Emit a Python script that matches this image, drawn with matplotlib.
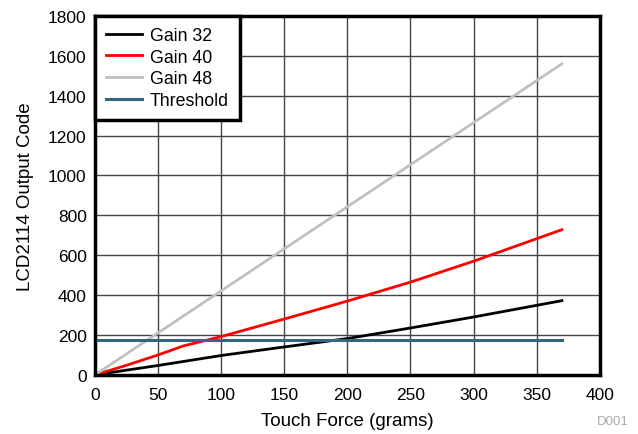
import numpy as np
import matplotlib
matplotlib.use('Agg')
from matplotlib import pyplot as plt

plt.rcParams['font.family'] = ['Liberation Sans', 'DejaVu Sans']

force_32 = [0, 50, 100, 150, 200, 250, 300, 370]
gain_32 = [0, 47, 97, 140, 182, 235, 290, 372]
force_40 = [0, 25, 50, 70, 100, 150, 200, 250, 300, 370]
gain_40 = [0, 48, 100, 145, 192, 280, 370, 465, 570, 728]
force_48 = [0, 370]
gain_48 = [0, 1560]
threshold_x = [0, 370]
threshold_y = [177, 177]

fig = plt.figure(figsize=(6.38, 4.35), dpi=100)
ax = fig.add_axes([0.149, 0.136, 0.791, 0.825])

ax.plot(force_32, gain_32, color='black', lw=2, label='Gain 32')
ax.plot(force_40, gain_40, color='red', lw=2, label='Gain 40')
ax.plot(force_48, gain_48, color='#c0c0c0', lw=2, label='Gain 48')
ax.plot(threshold_x, threshold_y, color='#336680', lw=2.2, label='Threshold')

ax.set_xlim(0, 400)
ax.set_ylim(0, 1800)
ax.set_xticks(np.arange(0, 401, 50))
ax.set_yticks(np.arange(0, 1801, 200))
ax.grid(True, color='#444444', lw=1)
ax.set_axisbelow(True)
for s in ax.spines.values():
    s.set_linewidth(2.5)
ax.tick_params(labelsize=12.5, length=0)
ax.tick_params(axis='x', pad=9)
ax.tick_params(axis='y', pad=6)
ax.set_xlabel('Touch Force (grams)', fontsize=13.5, labelpad=7)
ax.set_ylabel('LCD2114 Output Code', fontsize=13.5, labelpad=10)

leg = ax.legend(loc='upper left', fontsize=12.8, fancybox=False, framealpha=1,
                borderaxespad=0, handlelength=2.0, labelspacing=0.26,
                borderpad=0.62, handletextpad=0.45)
leg.get_frame().set_edgecolor('black')
leg.get_frame().set_linewidth(2.5)

fig.text(0.985, 0.015, 'D001', ha='right', va='bottom', fontsize=9.5, color='#aaaaaa')

fig.savefig('out.png', dpi=100)
